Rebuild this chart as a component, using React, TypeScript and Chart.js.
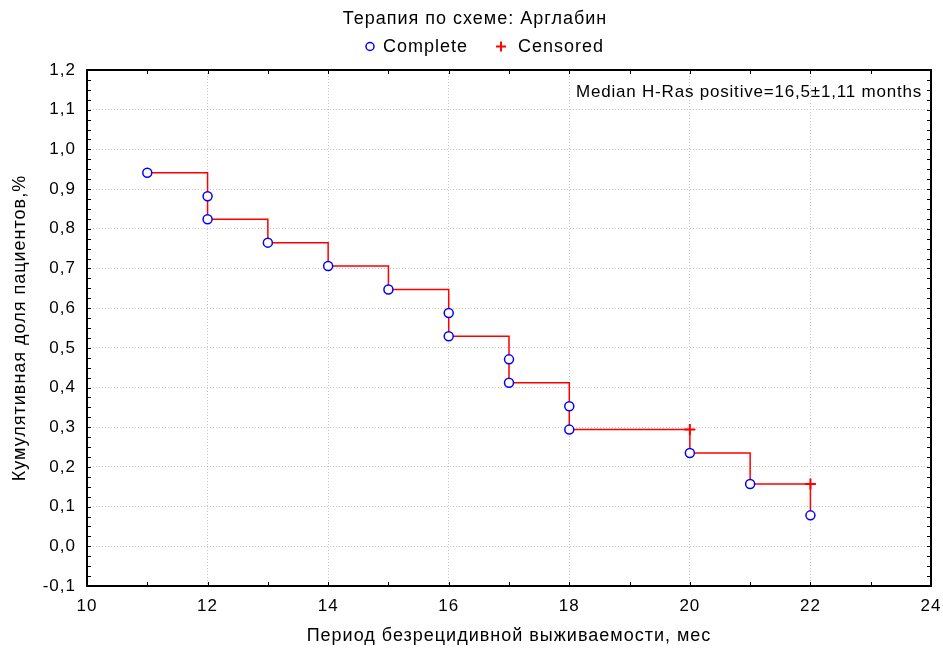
import React, { useEffect, useRef } from "react";
import { Chart, registerables } from "chart.js";

Chart.register(...registerables);

// Kaplan–Meier estimate: months of relapse-free survival and cumulative proportion
const eventMonths = [11, 12, 12, 13, 14, 15, 16, 16, 17, 17, 18, 18, 20, 21, 22];
const eventSurvival = [0.941, 0.882, 0.824, 0.765, 0.706, 0.647, 0.588, 0.529, 0.471, 0.412, 0.353, 0.294, 0.235, 0.157, 0.078];

const censoredMonths = [20, 22];
const censoredSurvival = [0.294, 0.157];

// Survival curve after each distinct time point
const curveMonths = [11, 12, 13, 14, 15, 16, 17, 18, 20, 21, 22];
const curveSurvival = [0.941, 0.824, 0.765, 0.706, 0.647, 0.529, 0.412, 0.294, 0.235, 0.157, 0.078];

const chartTitle = "Терапия по схеме: Арглабин";
const legendLabels = ["Complete", "Censored"];
const xTitle = "Период безрецидивной выживаемости, мес";
const yTitle = "Кумулятивная доля пациентов,%";
const medianNote = "Median H-Ras positive=16,5±1,11 months";

const xMin = 10, xMax = 24, xStep = 2, xMinor = 1;
const yMin = -0.1, yMax = 1.2, yStep = 0.1, yMinor = 0.025;

const FONT = "'Liberation Sans', Arial, sans-serif";
const BLUE = "#0000ff";
const RED = "#ff0000";

// Slightly wider text tracking for all chart text
const spacingPlugin = {
  id: "textSpacing",
  beforeLayout(chart: any) {
    chart.ctx.letterSpacing = "1px";
  },
  beforeDraw(chart: any) {
    chart.ctx.letterSpacing = "1px";
  },
};

const framePlugin = {
  id: "frameAndTicks",
  afterDatasetsDraw(chart: any) {
    const { ctx, chartArea } = chart;
    const { left, right, top, bottom } = chartArea;
    const xs = chart.scales.x;
    const ys = chart.scales.y;
    ctx.save();
    ctx.strokeStyle = "#000";
    ctx.lineWidth = 1;
    ctx.beginPath();
    const nx = Math.round((xMax - xMin) / xMinor);
    for (let i = 1; i < nx; i++) {
      const v = xMin + i * xMinor;
      const px = Math.round(xs.getPixelForValue(v)) + 0.5;
      ctx.moveTo(px, bottom);
      ctx.lineTo(px, bottom - 4);
      ctx.moveTo(px, top);
      ctx.lineTo(px, top + 4);
    }
    const ny = Math.round((yMax - yMin) / yMinor);
    for (let i = 1; i < ny; i++) {
      const v = yMin + i * yMinor;
      const py = Math.round(ys.getPixelForValue(v)) + 0.5;
      ctx.moveTo(left, py);
      ctx.lineTo(left + 4, py);
      ctx.moveTo(right, py);
      ctx.lineTo(right - 4, py);
    }
    ctx.stroke();
    ctx.lineWidth = 2;
    ctx.strokeRect(left, top, right - left, bottom - top);

    // median annotation, top-right inside the plot
    ctx.fillStyle = "#000";
    ctx.letterSpacing = "0.8px";
    ctx.font = "17px " + FONT;
    ctx.textAlign = "right";
    ctx.textBaseline = "middle";
    ctx.fillText(medianNote, right - 9, top + 22);
    ctx.restore();
  },
  afterDraw(chart: any) {
    // legend row under the title
    const { ctx } = chart;
    ctx.save();
    ctx.letterSpacing = "1px";
    ctx.font = "18px " + FONT;
    ctx.textBaseline = "middle";
    ctx.textAlign = "left";
    ctx.fillStyle = "#000";
    const y = 47.5;
    const w1 = ctx.measureText(legendLabels[0]).width;
    const markGap = 13;
    const itemGap = 33;
    let x = 370;
    // circle marker
    ctx.beginPath();
    ctx.arc(x, y - 1, 4, 0, Math.PI * 2);
    ctx.fillStyle = "#fff";
    ctx.fill();
    ctx.lineWidth = 1.5;
    ctx.strokeStyle = BLUE;
    ctx.stroke();
    ctx.fillStyle = "#000";
    ctx.fillText(legendLabels[0], x + markGap, y);
    x = x + markGap + w1 + itemGap;
    // cross marker
    ctx.beginPath();
    ctx.moveTo(x - 5, y - 1);
    ctx.lineTo(x + 5, y - 1);
    ctx.moveTo(x, y - 6);
    ctx.lineTo(x, y + 4);
    ctx.lineWidth = 2;
    ctx.strokeStyle = RED;
    ctx.stroke();
    ctx.fillText(legendLabels[1], x + 17, y);
    ctx.restore();
  },
};

export default function App() {
  const ref = useRef<HTMLCanvasElement | null>(null);

  useEffect(() => {
    if (!ref.current) return;
    const chart = new Chart(ref.current, {
      type: "scatter",
      data: {
        datasets: [
          {
            label: legendLabels[0],
            data: eventMonths.map((m, i) => ({ x: m, y: eventSurvival[i] })),
            pointStyle: "circle",
            pointRadius: 4.5,
            pointBorderWidth: 1.5,
            borderColor: BLUE,
            backgroundColor: "#ffffff",
            showLine: false,
          },
          {
            label: legendLabels[1],
            data: censoredMonths.map((m, i) => ({ x: m, y: censoredSurvival[i] })),
            pointStyle: "cross",
            pointRadius: 5.5,
            pointBorderWidth: 2,
            borderColor: RED,
            backgroundColor: RED,
            showLine: false,
          },
          {
            label: "curve",
            data: curveMonths.map((m, i) => ({ x: m, y: curveSurvival[i] })),
            showLine: true,
            stepped: "before",
            borderColor: RED,
            borderWidth: 1.5,
            pointRadius: 0,
            fill: false,
          },
        ],
      },
      options: {
        animation: false,
        responsive: true,
        maintainAspectRatio: false,
        layout: { padding: { left: 19, right: 12, top: 0, bottom: 0 } },
        plugins: {
          title: {
            display: true,
            text: chartTitle,
            color: "#000",
            font: { family: FONT, size: 18, weight: "normal" },
            padding: { top: 8, bottom: 40.4 },
          },
          legend: { display: false },
          tooltip: { enabled: false },
        },
        scales: {
          x: {
            type: "linear",
            min: xMin,
            max: xMax,
            ticks: {
              stepSize: xStep,
              color: "#000",
              padding: 10,
              font: { family: FONT, size: 17 },
            },
            grid: { color: "#c8c8c8", lineWidth: 1, drawTicks: false },
            border: { display: false, dash: [1, 2] },
            title: {
              display: true,
              text: xTitle,
              color: "#000",
              font: { family: FONT, size: 18 },
              padding: { top: 0, bottom: 1 },
            },
            afterFit: (s: any) => {
              s.height = 62;
              s.paddingLeft = 0;
              s.paddingRight = 0;
            },
          },
          y: {
            type: "linear",
            min: yMin,
            max: yMax,
            ticks: {
              stepSize: yStep,
              color: "#000",
              padding: 11,
              font: { family: FONT, size: 17 },
              callback: (v: any) => Number(v).toFixed(1).replace(".", ","),
            },
            grid: { color: "#c8c8c8", lineWidth: 1, drawTicks: false },
            border: { display: false, dash: [1, 2] },
            title: {
              display: true,
              text: yTitle,
              color: "#000",
              font: { family: FONT, size: 18 },
              padding: { top: -10, bottom: 0 },
            },
            afterFit: (s: any) => {
              s.width = 68;
              s.paddingTop = 0;
              s.paddingBottom = 0;
            },
          },
        },
      },
      plugins: [spacingPlugin, framePlugin],
    });
    return () => chart.destroy();
  }, []);

  return (
    <div style={{ position: "fixed", left: 0, top: 0, width: 943, height: 648, background: "#fff" }}>
      <canvas ref={ref} />
    </div>
  );
}
